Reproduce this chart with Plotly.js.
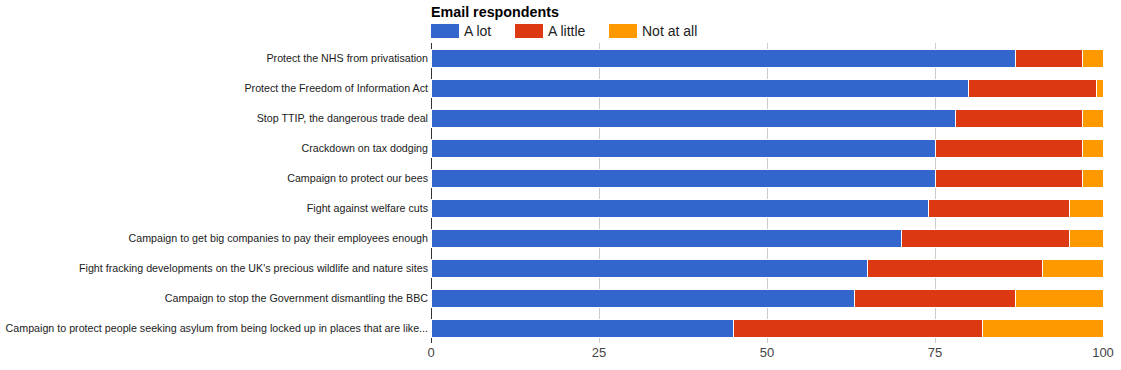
<!DOCTYPE html>
<html>
<head>
<meta charset="utf-8">
<script src="https://cdn.plot.ly/plotly-3.0.1.min.js"></script>
<style>html,body{margin:0;padding:0;background:#fff;}#chart{width:1121px;height:370px;}</style>
</head>
<body>
<div id="chart"></div>
<script>
const categories = [
  "Protect the NHS from privatisation",
  "Protect the Freedom of Information Act",
  "Stop TTIP, the dangerous trade deal",
  "Crackdown on tax dodging",
  "Campaign to protect our bees",
  "Fight against welfare cuts",
  "Campaign to get big companies to pay their employees enough",
  "Fight fracking developments on the UK's precious wildlife and nature sites",
  "Campaign to stop the Government dismantling the BBC",
  "Campaign to protect people seeking asylum from being locked up in places that are like..."
];
const seriesNames = ["A lot", "A little", "Not at all"];
const aLot     = [87, 80, 78, 75, 75, 74, 70, 65, 63, 45];
const aLittle  = [10, 19, 19, 22, 22, 21, 25, 26, 24, 37];
const notAtAll = [3, 1, 3, 3, 3, 5, 5, 9, 13, 18];
const colors = ["#3366cc", "#dc3912", "#ff9900"];
const xTicks = [0, 25, 50, 75, 100];
const chartTitle = "Email respondents";

const values = [aLot, aLittle, notAtAll];
const traces = values.map((v, i) => ({
  type: "bar",
  orientation: "h",
  name: seriesNames[i],
  y: categories,
  x: v,
  marker: {color: colors[i], line: {color: "#ffffff", width: 1}},
  hoverinfo: "none"
}));

// custom Google-style legend
const legendX = [431, 515, 609];
const W = 1121, H = 370;
const PW = 1103 - 431;
const shapes = legendX.map((x, i) => ({
  type: "rect", xref: "paper", yref: "paper",
  x0: (x - 431) / PW, x1: (x + 28 - 431) / PW,
  y0: (343 - 38) / 300, y1: (343 - 24) / 300,
  fillcolor: colors[i], line: {width: 0}
}));
const annotations = legendX.map((x, i) => ({
  xref: "paper", yref: "paper",
  x: (x + 32 - 431) / PW, y: (343 - 31) / 300,
  xanchor: "left", yanchor: "middle", borderpad: 0,
  text: seriesNames[i], showarrow: false,
  font: {family: "Liberation Sans, Arial, sans-serif", size: 14, color: "#222222"}
}));
annotations.push({
  xref: "paper", yref: "paper", x: -1.5 / PW, y: (343 - 12) / 300,
  xanchor: "left", yanchor: "middle", showarrow: false, borderpad: 0,
  text: "<b>" + chartTitle + "</b>",
  font: {family: "Liberation Sans, Arial, sans-serif", size: 14.3, color: "#000000"}
});

const layout = {
  width: W, height: H,
  margin: {l: 431, r: 18, t: 43, b: 27, pad: 0},
  barmode: "stack",
  bargap: 0.4,
  showlegend: false,
  hovermode: false,
  paper_bgcolor: "#ffffff",
  plot_bgcolor: "#ffffff",
  font: {family: "Liberation Sans, Arial, sans-serif", color: "#222222"},
  xaxis: {
    range: [0, 100],
    tickvals: xTicks,
    ticktext: xTicks.map(String),
    showgrid: true, gridcolor: "#cccccc", gridwidth: 1,
    zeroline: true, zerolinecolor: "#333333", zerolinewidth: 1,
    showline: false, ticks: "",
    tickfont: {size: 13, color: "#444444"},
    fixedrange: true
  },
  yaxis: {
    autorange: "reversed",
    showgrid: false, zeroline: false, showline: false, ticks: "",
    ticklabelstandoff: 2,
    tickfont: {size: 10.7, color: "#222222"},
    fixedrange: true
  },
  shapes: shapes,
  annotations: annotations
};

Plotly.newPlot("chart", traces, layout, {displayModeBar: false, staticPlot: true});
</script>
</body>
</html>
